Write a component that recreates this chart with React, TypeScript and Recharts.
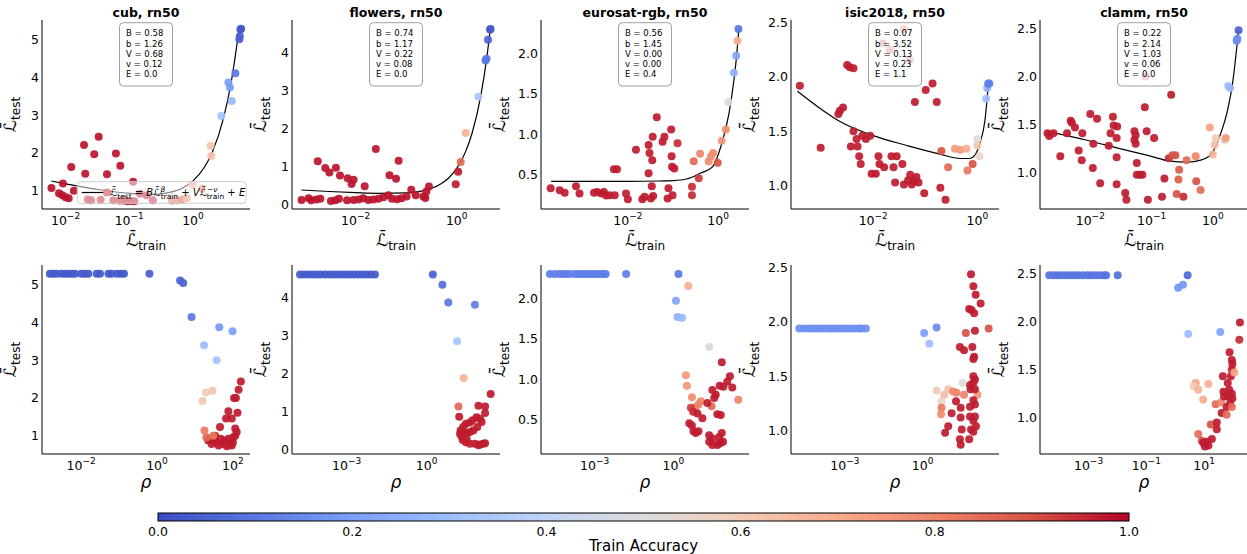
import React from 'react';
import { ComposedChart, Scatter, Line, XAxis, YAxis } from 'recharts';

type P = [number, number, number];
type C = [number, number];

const FONT = '"DejaVu Sans", sans-serif';
const LBAR = '\u2112\u0304';

// ---------- categories / titles / params ----------
const titles = ['cub, rn50', 'flowers, rn50', 'eurosat-rgb, rn50', 'isic2018, rn50', 'clamm, rn50'];
const cubParams = ['B = 0.58', 'b = 1.26', 'V = 0.68', 'v = 0.12', 'E = 0.0'];
const flowersParams = ['B = 0.74', 'b = 1.17', 'V = 0.22', 'v = 0.08', 'E = 0.0'];
const eurosatParams = ['B = 0.56', 'b = 1.45', 'V = 0.00', 'v = 0.00', 'E = 0.4'];
const isicParams = ['B = 0.07', 'b = 3.52', 'V = 0.13', 'v = 0.23', 'E = 1.1'];
const clammParams = ['B = 0.22', 'b = 2.14', 'V = 1.03', 'v = 0.06', 'E = 0.0'];
const colorbarTicks = [0, 0.2, 0.4, 0.6, 0.8, 1.0];

// ---------- top row: [L_train, L_test, train accuracy] ----------
const cubTrain: P[] = [
  [0.006, 1.07, 0.98], [0.0079, 0.93, 0.98], [0.0089, 0.88, 0.98], [0.0091, 1.19, 0.98], [0.01, 0.83, 0.98],
  [0.0112, 0.8, 0.98], [0.0123, 1.63, 0.98], [0.0135, 1.0, 0.98], [0.0195, 2.21, 0.98], [0.0204, 1.45, 0.98],
  [0.0282, 1.97, 0.98], [0.0331, 2.43, 0.98], [0.0447, 1.44, 0.98], [0.0617, 1.99, 0.98], [0.0724, 1.66, 0.98],
  [0.115, 1.24, 0.98], [0.0224, 0.77, 0.97], [0.0251, 0.75, 0.97], [0.0355, 0.76, 0.97], [0.0447, 0.95, 0.97],
  [0.0562, 0.75, 0.97], [0.0708, 0.74, 0.97], [0.0832, 0.74, 0.97], [0.0933, 0.72, 0.97], [0.107, 0.73, 0.97],
  [0.12, 0.72, 0.97], [0.148, 0.92, 0.97], [0.186, 0.88, 0.97], [0.234, 0.75, 0.97], [0.468, 0.74, 0.85],
  [0.562, 0.75, 0.85], [0.676, 0.77, 0.9], [0.794, 0.8, 0.8], [0.99, 1.16, 0.72], [1.38, 1.05, 0.8],
  [1.89, 2.19, 0.62], [1.94, 1.92, 0.63], [2.79, 2.98, 0.32], [3.59, 3.87, 0.2], [3.8, 3.74, 0.2],
  [4.05, 3.38, 0.28], [4.62, 4.12, 0.1], [5.35, 5.02, 0.05], [5.43, 5.1, 0.05], [5.56, 5.28, 0.03], [5.69, 5.3, 0.03],
];
const flowersTrain: P[] = [
  [0.00085, 0.13, 0.98], [0.00117, 0.17, 0.98], [0.00132, 0.12, 0.98], [0.00166, 0.14, 0.98], [0.002, 0.16, 0.98],
  [0.00324, 0.1, 0.98], [0.00398, 0.12, 0.98], [0.00468, 0.16, 0.98], [0.00676, 0.12, 0.98], [0.0091, 0.13, 0.98],
  [0.0115, 0.14, 0.98], [0.0141, 0.17, 0.98], [0.0178, 0.13, 0.98], [0.0224, 0.14, 0.98], [0.0282, 0.16, 0.98],
  [0.0355, 0.2, 0.98], [0.0447, 0.25, 0.98], [0.0525, 0.16, 0.98], [0.0661, 0.15, 0.98], [0.0813, 0.17, 0.98],
  [0.102, 0.22, 0.98], [0.126, 0.4, 0.98], [0.155, 0.25, 0.98], [0.219, 0.22, 0.98], [0.24, 0.18, 0.98],
  [0.251, 0.35, 0.98], [0.282, 0.48, 0.98], [0.00178, 1.15, 0.98], [0.00251, 0.97, 0.98], [0.00302, 0.85, 0.98],
  [0.00407, 0.98, 0.98], [0.0049, 0.77, 0.98], [0.00692, 0.7, 0.98], [0.0083, 0.55, 0.98], [0.0091, 0.66, 0.98],
  [0.0151, 0.49, 0.98], [0.0251, 1.47, 0.98], [0.0468, 0.78, 0.98], [0.0631, 0.69, 0.98], [0.0708, 1.16, 0.98],
  [0.955, 0.54, 0.97], [1.07, 0.87, 0.97], [1.2, 1.13, 0.85], [1.51, 1.89, 0.68], [2.69, 2.85, 0.33],
  [3.72, 3.8, 0.1], [3.89, 3.85, 0.1], [4.17, 4.35, 0.06], [4.57, 4.62, 0.03], [4.68, 4.63, 0.03],
];
const eurosatTrain: P[] = [
  [0.000195, 0.335, 0.97], [0.000309, 0.31, 0.97], [0.000398, 0.28, 0.97], [0.000708, 0.36, 0.97], [0.00085, 0.27, 0.97],
  [0.00178, 0.28, 0.97], [0.00209, 0.29, 0.97], [0.00257, 0.27, 0.97], [0.00295, 0.29, 0.97], [0.00331, 0.245, 0.97],
  [0.00398, 0.25, 0.97], [0.00513, 0.25, 0.97], [0.0049, 0.57, 0.97], [0.00575, 0.57, 0.97], [0.0091, 0.27, 0.97],
  [0.01, 0.2, 0.97], [0.0151, 0.81, 0.97], [0.0209, 0.2, 0.97], [0.0234, 0.23, 0.97], [0.0288, 0.87, 0.97],
  [0.0288, 0.52, 0.97], [0.0302, 0.77, 0.97], [0.0324, 0.21, 0.97], [0.0339, 0.36, 0.97], [0.0347, 0.68, 0.97],
  [0.0355, 0.97, 0.97], [0.0363, 0.24, 0.97], [0.0437, 1.21, 0.97], [0.0589, 0.91, 0.97], [0.0646, 0.97, 0.97],
  [0.0759, 0.21, 0.97], [0.0794, 0.335, 0.97], [0.0912, 1.06, 0.97], [0.0933, 0.73, 0.97], [0.0955, 0.6, 0.97],
  [0.0977, 0.25, 0.97], [0.107, 0.58, 0.97], [0.126, 0.89, 0.95], [0.263, 0.355, 0.95], [0.263, 0.25, 0.95],
  [0.288, 0.67, 0.85], [0.372, 0.46, 0.93], [0.398, 0.76, 0.8], [0.617, 0.665, 0.78], [0.692, 0.73, 0.78],
  [0.776, 0.77, 0.78], [0.977, 0.65, 0.9], [1.2, 0.92, 0.75], [1.48, 1.06, 0.77], [1.7, 1.4, 0.48],
  [2.24, 1.76, 0.26], [2.51, 1.97, 0.22], [2.69, 2.15, 0.7], [2.82, 2.3, 0.1],
];
const isicTrain: P[] = [
  [0.000389, 1.92, 0.97], [0.000977, 1.35, 0.97], [0.00214, 1.66, 0.97], [0.00229, 1.69, 0.97], [0.00263, 1.72, 0.97],
  [0.00316, 2.11, 0.97], [0.00355, 2.09, 0.97], [0.00417, 2.08, 0.97], [0.00417, 1.5, 0.97], [0.00372, 1.36, 0.97],
  [0.00479, 1.43, 0.97], [0.005, 1.36, 0.97], [0.00537, 1.27, 0.97], [0.00575, 1.2, 0.97], [0.00617, 1.46, 0.97],
  [0.00724, 1.43, 0.97], [0.00871, 1.46, 0.97], [0.00933, 1.11, 0.97], [0.0112, 1.11, 0.97], [0.0126, 1.27, 0.97],
  [0.0132, 1.2, 0.97], [0.0162, 1.17, 0.97], [0.0224, 1.27, 0.97], [0.0245, 1.17, 0.97], [0.0263, 1.03, 0.97],
  [0.0282, 1.27, 0.97], [0.0363, 1.2, 0.97], [0.0389, 1.01, 0.97], [0.0468, 1.05, 0.97], [0.0513, 1.1, 0.97],
  [0.055, 1.01, 0.97], [0.0603, 1.04, 0.97], [0.0676, 1.08, 0.97], [0.0741, 1.03, 0.97], [0.0631, 1.77, 0.97],
  [0.0955, 0.93, 0.97], [0.102, 1.88, 0.97], [0.138, 1.94, 0.97], [0.166, 1.77, 0.97], [0.195, 0.98, 0.97],
  [0.204, 1.32, 0.9], [0.245, 0.87, 0.97], [0.275, 1.17, 0.85], [0.372, 1.34, 0.75], [0.468, 1.33, 0.75],
  [0.617, 1.34, 0.7], [0.646, 1.14, 0.82], [0.813, 1.2, 0.9], [1.0, 1.43, 0.5], [1.0, 1.37, 0.62],
  [1.1, 1.27, 0.55], [1.48, 1.8, 0.3], [1.55, 1.9, 0.25], [1.62, 1.94, 0.1], [1.7, 1.94, 0.12],
  [0.0151, 2.31, 0.97], [0.0209, 2.25, 0.97], [0.0389, 2.44, 0.97], [0.0501, 2.16, 0.97],
];
const clammTrain: P[] = [
  [0.002, 1.41, 0.97], [0.00214, 1.38, 0.97], [0.00251, 1.41, 0.97], [0.00324, 1.17, 0.97], [0.00417, 1.41, 0.97],
  [0.00479, 1.54, 0.97], [0.005, 1.52, 0.97], [0.00562, 1.47, 0.97], [0.00646, 1.23, 0.97], [0.00724, 1.13, 0.97],
  [0.00741, 1.41, 0.97], [0.01, 1.61, 0.97], [0.011, 1.05, 0.97], [0.0112, 1.3, 0.97], [0.0129, 1.56, 0.97],
  [0.0145, 0.89, 0.97], [0.02, 1.28, 0.97], [0.0214, 1.41, 0.97], [0.0234, 1.58, 0.97], [0.024, 1.49, 0.97],
  [0.0269, 1.36, 0.97], [0.0275, 1.48, 0.97], [0.0269, 1.16, 0.97], [0.0269, 0.88, 0.97], [0.0372, 0.79, 0.97],
  [0.0389, 0.72, 0.97], [0.0525, 1.43, 0.97], [0.055, 1.39, 0.97], [0.0525, 1.34, 0.97], [0.055, 1.3, 0.97],
  [0.0575, 1.1, 0.97], [0.0575, 0.98, 0.97], [0.0646, 0.98, 0.97], [0.0708, 0.98, 0.97], [0.0776, 1.68, 0.97],
  [0.0832, 1.43, 0.97], [0.0871, 0.72, 0.97], [0.11, 1.36, 0.97], [0.148, 0.75, 0.97], [0.162, 0.94, 0.97],
  [0.209, 1.81, 0.97], [0.191, 1.15, 0.95], [0.219, 1.18, 0.9], [0.245, 1.18, 0.9], [0.257, 0.78, 0.9],
  [0.275, 0.93, 0.88], [0.282, 1.03, 0.88], [0.331, 0.75, 0.95], [0.372, 1.13, 0.85], [0.525, 1.17, 0.8],
  [0.537, 0.91, 0.9], [0.631, 0.82, 0.85], [0.891, 1.47, 0.72], [1.0, 1.19, 0.68], [1.07, 1.29, 0.65],
  [1.12, 1.36, 0.6], [1.55, 1.34, 0.55], [1.62, 1.36, 0.75], [1.78, 1.9, 0.3], [1.91, 1.88, 0.28],
  [2.45, 2.37, 0.15], [2.51, 2.39, 0.15], [2.63, 2.48, 0.05], [0.0794, 2.0, 0.97],
];

// ---------- fitted curves: [L_train, L_test] ----------
const cubCurve: C[] = [[0.006, 1.258], [0.01, 1.184], [0.03, 1.043], [0.1, 0.928], [0.2, 0.901], [0.3, 0.913], [0.5, 0.981], [0.7, 1.08], [1, 1.26], [1.5, 1.615], [2, 2.015], [3, 2.911], [4, 3.902], [5.3, 5.3]];
const flowersCurve: C[] = [[0.00085, 0.39], [0.003, 0.351], [0.01, 0.321], [0.03, 0.303], [0.1, 0.314], [0.2, 0.363], [0.3, 0.423], [0.5, 0.561], [0.7, 0.714], [1, 0.96], [1.5, 1.402], [2, 1.873], [3, 2.877], [4, 3.944], [4.6, 4.6]];
const eurosatCurve: C[] = [[0.0002, 0.42], [0.001, 0.42], [0.01, 0.42], [0.05, 0.425], [0.1, 0.43], [0.2, 0.45], [0.4, 0.52], [0.75, 0.6], [1.15, 0.85], [1.74, 1.26], [2.24, 1.67], [2.6, 2.0], [2.88, 2.31]];
const isicCurve: C[] = [[0.00035, 1.87], [0.0011, 1.69], [0.0023, 1.59], [0.01, 1.46], [0.044, 1.37], [0.19, 1.29], [0.47, 1.25], [0.72, 1.25], [0.9, 1.28], [1.12, 1.39], [1.4, 1.6], [1.62, 1.92]];
const clammCurve: C[] = [[0.002, 1.43], [0.0085, 1.34], [0.0355, 1.24], [0.087, 1.18], [0.204, 1.12], [0.38, 1.11], [0.63, 1.13], [0.933, 1.19], [1.35, 1.41], [1.74, 1.65], [2.09, 1.92], [2.63, 2.48]];

// ---------- bottom row: [rho, L_test, train accuracy] ----------
const cubRho: P[] = [
  [0.0015, 5.3, 0.03], [0.00182, 5.3, 0.03], [0.00224, 5.3, 0.03], [0.00302, 5.3, 0.03], [0.00372, 5.3, 0.03],
  [0.00457, 5.3, 0.03], [0.00562, 5.3, 0.03], [0.0069, 5.3, 0.03], [0.0102, 5.3, 0.03], [0.0126, 5.3, 0.03],
  [0.0155, 5.3, 0.03], [0.0257, 5.3, 0.03], [0.0316, 5.3, 0.03], [0.0525, 5.3, 0.03], [0.0631, 5.3, 0.03],
  [0.0871, 5.3, 0.03], [0.11, 5.3, 0.03], [0.135, 5.3, 0.03], [0.631, 5.3, 0.04],
  [4.07, 5.12, 0.05], [4.9, 5.05, 0.05], [8.13, 4.15, 0.1], [17.4, 3.4, 0.3], [43.7, 3.88, 0.18],
  [37.2, 3.0, 0.32], [97.7, 3.77, 0.2], [15.8, 1.92, 0.62], [19.5, 2.15, 0.6], [28.8, 2.19, 0.62], [17.8, 1.14, 0.82],
  [162, 2.44, 0.97], [141, 2.22, 0.97], [107, 2.0, 0.97], [120, 2.0, 0.97], [75.9, 1.65, 0.97], [66.1, 1.46, 0.97],
  [93.3, 1.46, 0.97], [132, 1.61, 0.97], [45.7, 1.23, 0.97], [115, 1.19, 0.97], [25.1, 0.92, 0.97], [30.9, 0.87, 0.97],
  [37.2, 0.83, 0.97], [47.9, 0.92, 0.97], [53.7, 0.78, 0.97], [61.7, 0.87, 0.97], [75.9, 0.92, 0.97], [85.1, 0.78, 0.97],
  [100, 0.83, 0.97], [102, 0.96, 0.97], [115, 1.0, 0.97], [126, 1.1, 0.97], [93.3, 0.74, 0.97], [69.2, 0.72, 0.97],
  [41.7, 0.74, 0.97], [33.9, 1.0, 0.97], [22.4, 0.87, 0.97], [27.5, 0.78, 0.97], [20, 0.95, 0.85], [30, 1.0, 0.82],
];
const flowersRho: P[] = [
  [1.78e-5, 4.62, 0.03], [2.51e-5, 4.62, 0.03], [3.63e-5, 4.62, 0.03], [5.25e-5, 4.62, 0.03], [7.41e-5, 4.62, 0.03],
  [1.05e-4, 4.62, 0.03], [1.55e-4, 4.62, 0.03], [2.24e-4, 4.62, 0.03], [3.16e-4, 4.62, 0.03], [4.47e-4, 4.62, 0.03],
  [6.46e-4, 4.62, 0.03], [9.33e-4, 4.62, 0.03], [1.32e-3, 4.62, 0.03], [1.86e-3, 4.62, 0.03], [2.75e-3, 4.62, 0.03],
  [3.98e-3, 4.62, 0.03], [5.62e-3, 4.62, 0.03], [7.94e-3, 4.62, 0.03], [0.0115, 4.62, 0.03],
  [1.7, 4.62, 0.05], [3.89, 4.35, 0.08], [6.46, 3.88, 0.1], [64.6, 3.82, 0.12], [13.8, 2.86, 0.33],
  [24.5, 1.89, 0.68], [15.5, 1.14, 0.85], [16.6, 0.87, 0.97], [251, 1.47, 0.97], [87.1, 1.16, 0.97],
  [155, 1.14, 0.97], [155, 0.97, 0.97], [18.6, 0.51, 0.97], [23.4, 0.6, 0.97], [29.5, 0.69, 0.97],
  [41.7, 0.72, 0.97], [52.5, 0.78, 0.97], [74.1, 0.86, 0.97], [100, 0.82, 0.97], [115, 0.73, 0.97],
  [79.4, 0.6, 0.97], [56.2, 0.51, 0.97], [41.7, 0.47, 0.97], [31.6, 0.44, 0.97], [23.4, 0.44, 0.97],
  [20.4, 0.35, 0.97], [22.4, 0.26, 0.97], [29.5, 0.2, 0.97], [41.7, 0.16, 0.97], [64.6, 0.16, 0.97],
  [100, 0.14, 0.97], [132, 0.16, 0.97], [155, 0.17, 0.97], [87.1, 0.12, 0.97], [31.6, 0.29, 0.97], [17.8, 0.42, 0.97],
];
const eurosatRho: P[] = [
  [1.95e-5, 2.3, 0.12], [3.02e-5, 2.3, 0.12], [4.47e-5, 2.3, 0.12], [6.31e-5, 2.3, 0.12], [8.32e-5, 2.3, 0.12],
  [1.12e-4, 2.3, 0.12], [1.74e-4, 2.3, 0.12], [2.34e-4, 2.3, 0.12], [3.09e-4, 2.3, 0.12], [4.17e-4, 2.3, 0.12],
  [5.62e-4, 2.3, 0.12], [7.41e-4, 2.3, 0.12], [1.0e-3, 2.3, 0.12], [1.35e-3, 2.3, 0.12], [1.78e-3, 2.3, 0.12],
  [2.19e-3, 2.3, 0.12], [2.63e-3, 2.3, 0.12], [0.0158, 2.3, 0.12], [1.58, 2.3, 0.1],
  [3.72, 2.15, 0.7], [1.26, 1.97, 0.22], [1.45, 1.77, 0.26], [2.14, 1.76, 0.28], [23.4, 1.4, 0.48],
  [3.02, 1.05, 0.75], [3.31, 0.92, 0.75], [5.13, 0.78, 0.78], [70.8, 1.21, 0.97], [302, 0.75, 0.8],
  [145, 1.04, 0.97], [115, 0.97, 0.97], [178, 0.9, 0.97], [58.9, 0.92, 0.97], [81.3, 0.91, 0.97],
  [30.9, 0.87, 0.97], [41.7, 0.81, 0.97], [36.3, 0.77, 0.97], [11.2, 0.73, 0.8], [9.12, 0.69, 0.8],
  [7.24, 0.66, 0.8], [28.8, 0.67, 0.85], [20, 0.71, 0.97], [4.68, 0.65, 0.93], [5.75, 0.6, 0.95],
  [8.32, 0.58, 0.97], [12.9, 0.52, 0.97], [47.9, 0.57, 0.97], [64.6, 0.56, 0.97], [4.07, 0.46, 0.97],
  [5.13, 0.43, 0.97], [5.89, 0.36, 0.97], [7.24, 0.34, 0.97], [9.12, 0.36, 0.97], [23.4, 0.31, 0.97],
  [30.9, 0.27, 0.97], [56.2, 0.29, 0.97], [70.8, 0.34, 0.97], [23.4, 0.23, 0.97], [30.9, 0.19, 0.97],
  [47.9, 0.19, 0.97], [64.6, 0.22, 0.97], [79.4, 0.23, 0.97], [56.2, 0.21, 0.97],
];
const isicRho: P[] = [
  [1.74e-5, 1.94, 0.16], [2.63e-5, 1.94, 0.16], [3.89e-5, 1.94, 0.16], [5.62e-5, 1.94, 0.16], [8.13e-5, 1.94, 0.16],
  [1.15e-4, 1.94, 0.16], [1.7e-4, 1.94, 0.16], [2.51e-4, 1.94, 0.16], [3.55e-4, 1.94, 0.16], [5.13e-4, 1.94, 0.16],
  [7.41e-4, 1.94, 0.16], [1.1e-3, 1.94, 0.16], [1.55e-3, 1.94, 0.16], [2.24e-3, 1.94, 0.16], [3.31e-3, 1.94, 0.16],
  [4.37e-3, 1.94, 0.16], [6.46e-3, 1.94, 0.16],
  [1.15, 1.9, 0.2], [1.82, 1.8, 0.3], [3.47, 1.95, 0.15], [355, 1.94, 0.9],
  [74.1, 2.44, 0.97], [91.2, 2.33, 0.97], [112, 2.25, 0.97], [174, 2.17, 0.97], [63.1, 2.12, 0.97],
  [77.6, 2.11, 0.97], [97.7, 2.08, 0.97], [105, 1.92, 0.97], [46.8, 1.9, 0.9], [27.5, 1.77, 0.97],
  [39.8, 1.74, 0.97], [83.2, 1.77, 0.97], [97.7, 1.68, 0.97], [91.2, 1.66, 0.97], [91.2, 1.5, 0.97],
  [105, 1.47, 0.97], [91.2, 1.44, 0.97], [67.6, 1.42, 0.97], [34.7, 1.44, 0.5], [3.47, 1.37, 0.6],
  [9.77, 1.38, 0.62], [6.92, 1.33, 0.65], [5.37, 1.27, 0.55], [15.1, 1.36, 0.8], [20.4, 1.35, 0.8],
  [39.8, 1.33, 0.8], [132, 1.33, 0.75], [5.37, 1.21, 0.82], [5.13, 1.15, 0.78], [13.2, 1.16, 0.97],
  [19.5, 1.27, 0.97], [29.5, 1.21, 0.97], [9.77, 1.04, 0.97], [7.41, 0.98, 0.97], [29.5, 1.12, 0.97],
  [32.4, 1.01, 0.97], [67.6, 1.22, 0.97], [91.2, 1.28, 0.97], [105, 1.24, 0.97], [67.6, 1.13, 0.97],
  [91.2, 1.09, 0.97], [115, 1.04, 0.97], [74.1, 1.01, 0.97], [91.2, 0.99, 0.97], [63.1, 0.92, 0.97],
  [27.5, 0.92, 0.97], [29.5, 0.87, 0.97], [105, 1.13, 0.97], [70.8, 1.38, 0.97], [105, 1.38, 0.97],
];
const clammRho: P[] = [
  [4.37e-5, 2.48, 0.09], [6.17e-5, 2.48, 0.09], [8.51e-5, 2.48, 0.09], [1.17e-4, 2.48, 0.09], [1.66e-4, 2.48, 0.09],
  [2.34e-4, 2.48, 0.09], [3.24e-4, 2.48, 0.09], [4.37e-4, 2.48, 0.09], [6.31e-4, 2.48, 0.09], [8.91e-4, 2.48, 0.09],
  [1.23e-3, 2.48, 0.09], [1.7e-3, 2.48, 0.09], [2.4e-3, 2.48, 0.09], [3.39e-3, 2.48, 0.09], [4.07e-3, 2.48, 0.09],
  [0.0102, 2.48, 0.08], [2.69, 2.48, 0.06], [1.26, 2.35, 0.18], [1.86, 2.38, 0.18], [2.82, 1.87, 0.3],
  [36.3, 1.89, 0.22], [174, 1.99, 0.97], [166, 1.81, 0.95], [75.9, 1.68, 0.97], [91.2, 1.6, 0.97],
  [95.5, 1.56, 0.97], [91.2, 1.5, 0.97], [85.1, 1.43, 0.97], [44.7, 1.43, 0.97], [112, 1.47, 0.72],
  [5.13, 1.36, 0.72], [4.27, 1.33, 0.6], [6.31, 1.29, 0.68], [14.1, 1.35, 0.68], [9.33, 1.19, 0.7],
  [25.1, 1.14, 0.85], [38.9, 1.16, 0.8], [46.8, 1.27, 0.97], [66.1, 1.36, 0.97], [74.1, 1.29, 0.97],
  [91.2, 1.25, 0.97], [95.5, 1.2, 0.97], [79.4, 1.15, 0.97], [60.3, 1.11, 0.97], [40.7, 1.05, 0.97],
  [60.3, 1.03, 0.85], [91.2, 1.11, 0.85], [17.0, 0.93, 0.9], [27.5, 0.95, 0.97], [27.5, 0.88, 0.97],
  [6.31, 0.83, 0.85], [8.32, 0.76, 0.9], [9.33, 0.74, 0.97], [12.3, 0.75, 0.97], [10.7, 0.7, 0.97],
  [18.6, 0.78, 0.97], [14.1, 0.71, 0.97], [49, 1.22, 0.97], [69.2, 1.22, 0.97],
];

// ---------- colormap (coolwarm) ----------
const CW = ['#3b4cc0', '#5977e3', '#7b9ff9', '#9ebeff', '#c0d4f5', '#dddcdc', '#f2cbb7', '#f7ac8e', '#ee8468', '#d65244', '#b40426'];
const hex = (h: string) => [1, 3, 5].map((i) => parseInt(h.slice(i, i + 2), 16));
function coolwarm(t: number): string {
  const s = Math.max(0, Math.min(1, t)) * 10;
  const i = Math.min(9, Math.floor(s));
  const f = s - i;
  const a = hex(CW[i]);
  const b = hex(CW[i + 1]);
  const c = a.map((v, k) => Math.round(v + (b[k] - v) * f));
  return `rgb(${c[0]},${c[1]},${c[2]})`;
}

// ---------- layout ----------
const AX_W = 208;
const AX_H = 189;
const LEFTS = [42, 292, 541, 791, 1040];
const TOP1 = 20;
const TOP2 = 265;
const CB_L = 158;
const CB_R = 1129;
const CB_T = 513;
const CB_H = 8;

type Cfg = {
  data: P[]; curve?: C[]; xd: [number, number]; yd: [number, number];
  xt: number[]; yt: number[]; dec: number;
};

const topCfg: Cfg[] = [
  { data: cubTrain, curve: cubCurve, xd: [0.00427, 7.85], yd: [0.515, 5.53], xt: [0.01, 0.1, 1], yt: [1, 2, 3, 4, 5], dec: 0 },
  { data: flowersTrain, curve: flowersCurve, xd: [0.00055, 7.19], yd: [-0.11, 4.87], xt: [0.01, 1], yt: [0, 1, 2, 3, 4], dec: 0 },
  { data: eurosatTrain, curve: eurosatCurve, xd: [0.000119, 4.83], yd: [0.08, 2.41], xt: [0.01, 1], yt: [0.5, 1.0, 1.5, 2.0], dec: 1 },
  { data: isicTrain, curve: isicCurve, xd: [0.000263, 2.61], yd: [0.785, 2.525], xt: [0.01, 1], yt: [1.0, 1.5, 2.0, 2.5], dec: 1 },
  { data: clammTrain, curve: clammCurve, xd: [0.00151, 3.75], yd: [0.623, 2.586], xt: [0.01, 0.1, 1], yt: [1.0, 1.5, 2.0, 2.5], dec: 1 },
];
const botCfg: Cfg[] = [
  { data: cubRho, xd: [0.000933, 282], yd: [0.515, 5.53], xt: [0.01, 1, 100], yt: [1, 2, 3, 4, 5], dec: 0 },
  { data: flowersRho, xd: [8.9e-6, 562], yd: [-0.11, 4.87], xt: [0.001, 1], yt: [0, 1, 2, 3, 4], dec: 0 },
  { data: eurosatRho, xd: [8.9e-6, 776], yd: [0.08, 2.41], xt: [0.001, 1], yt: [0.5, 1.0, 1.5, 2.0], dec: 1 },
  { data: isicRho, xd: [8.3e-6, 891], yd: [0.785, 2.525], xt: [0.001, 1], yt: [1.0, 1.5, 2.0, 2.5], dec: 1 },
  { data: clammRho, xd: [2.09e-5, 331], yd: [0.623, 2.586], xt: [0.001, 0.1, 10], yt: [1.0, 1.5, 2.0, 2.5], dec: 1 },
];
const paramSets = [cubParams, flowersParams, eurosatParams, isicParams, clammParams];

const LogTick = (props: any) => {
  const { x, y, payload } = props;
  const e = Math.round(Math.log10(payload.value));
  const s = e < 0 ? '\u2212' + Math.abs(e) : String(e);
  return (
    <text x={x} y={y} textAnchor="middle" fontFamily={FONT} fill="#000">
      <tspan fontSize={12.5} dy={12}>10</tspan>
      <tspan fontSize={9} dy={-6.5}>{s}</tspan>
    </text>
  );
};

const Dot = (p: any) => <circle cx={p.cx} cy={p.cy} r={4} fill={p.payload.c} fillOpacity={0.92} />;

function Panel({ cfg, L, T }: { cfg: Cfg; L: number; T: number }) {
  const pts = cfg.data.map(([x, y, a]) => ({ x, y, c: coolwarm(a) }));
  const line = cfg.curve ? cfg.curve.map(([x, y]) => ({ x, y })) : null;
  return (
    <div style={{ position: 'absolute', left: L - 40, top: T - 20 }}>
      <ComposedChart width={40 + AX_W + 2} height={20 + AX_H + 41} margin={{ top: 20, right: 2, left: 0, bottom: 0 }}>
        <XAxis dataKey="x" type="number" scale="log" domain={cfg.xd} ticks={cfg.xt} allowDataOverflow interval={0}
          tick={<LogTick />} tickLine={false} tickSize={0} tickMargin={4} height={41}
          axisLine={{ stroke: '#000', strokeWidth: 1 }} />
        <YAxis dataKey="y" type="number" domain={cfg.yd} ticks={cfg.yt} allowDataOverflow interval={0} width={40}
          tickLine={false} tickSize={0} tickMargin={3}
          tick={{ fontSize: 12.5, fill: '#000', fontFamily: FONT }}
          tickFormatter={(v: number) => v.toFixed(cfg.dec)}
          axisLine={{ stroke: '#000', strokeWidth: 1 }} />
        <Scatter data={pts} dataKey="y" shape={Dot} isAnimationActive={false} />
        {line && (
          <Line data={line} dataKey="y" type="monotone" stroke="#000" strokeWidth={1.2} dot={false}
            activeDot={false} isAnimationActive={false} />
        )}
      </ComposedChart>
    </div>
  );
}

function Overlay() {
  const items: React.ReactNode[] = [];
  LEFTS.forEach((L, i) => {
    const cx = L + AX_W / 2;
    const off = topCfg[i].dec ? 36 : 26;
    items.push(
      <text key={'t' + i} x={cx} y={16.5} textAnchor="middle" fontSize={12.5} fontWeight="bold">{titles[i]}</text>,
    );
    items.push(
      <g key={'b' + i}>
        <rect x={cx - 26.5} y={TOP1 + 2.7} width={53} height={63.3} rx={4} fill="#fff" fillOpacity={0.8} stroke="#a0a0a0" strokeWidth={1} />
        {paramSets[i].map((s, k) => (
          <text key={k} x={cx - 20} y={TOP1 + 2.7 + 13.7 + k * 10.2} fontSize={8.5}>{s}</text>
        ))}
      </g>,
    );
    items.push(
      <text key={'xl' + i} x={cx} y={TOP1 + AX_H + 37} textAnchor="middle">
        <tspan fontSize={17}>{LBAR}</tspan>
        <tspan fontSize={12} dy={3.5}>train</tspan>
      </text>,
      <text key={'xr' + i} x={cx} y={TOP2 + AX_H + 34} textAnchor="middle" fontSize={17} fontStyle="italic">ρ</text>,
    );
    [TOP1, TOP2].forEach((T, r) => {
      items.push(
        <text key={'yl' + i + '_' + r} transform={`translate(${L - off},${T + AX_H / 2}) rotate(-90)`} textAnchor="middle">
          <tspan fontSize={17}>{LBAR}</tspan>
          <tspan fontSize={12} dy={3.5}>test</tspan>
        </text>,
      );
    });
  });
  return (
    <svg width={1247} height={554} style={{ position: 'absolute', left: 0, top: 0, pointerEvents: 'none' }}
      fontFamily={FONT} fill="#000">
      <defs>
        <linearGradient id="cwgrad" x1="0" x2="1" y1="0" y2="0">
          {CW.map((c, i) => <stop key={i} offset={i / 10} stopColor={c} />)}
        </linearGradient>
      </defs>
      {items}
      {/* legend in first panel */}
      <rect x={77.3} y={181.7} width={168.7} height={21.6} rx={3} fill="#fff" fillOpacity={0.5} stroke="#cccccc" strokeWidth={1} />
      <line x1={81.7} x2={103.3} y1={192.5} y2={192.5} stroke="#000" strokeWidth={1.2} />
      <text x={110} y={196} fontSize={10}>
        <tspan>{LBAR}</tspan>
        <tspan fontSize={7.5} dy={2.5}>test</tspan>
        <tspan dy={-2.5}>{' = '}</tspan>
        <tspan fontStyle="italic">B</tspan>
        <tspan>{LBAR}</tspan>
        <tspan fontSize={7.5} fontStyle="italic" dy={-4.5}>β</tspan>
        <tspan fontSize={7.5} dx={-4.6} dy={7}>train</tspan>
        <tspan dy={-2.5}>{' + '}</tspan>
        <tspan fontStyle="italic">V</tspan>
        <tspan>{LBAR}</tspan>
        <tspan fontSize={7.5} fontStyle="italic" dy={-4.5}>{'\u2212ν'}</tspan>
        <tspan fontSize={7.5} dx={-10.7} dy={7}>train</tspan>
        <tspan dy={-2.5}>{' + '}</tspan>
        <tspan fontStyle="italic">E</tspan>
      </text>
      {/* colorbar */}
      <rect x={CB_L} y={CB_T} width={CB_R - CB_L} height={CB_H} fill="url(#cwgrad)" stroke="#000" strokeWidth={1} />
      <text x={(CB_L + CB_R) / 2} y={551} textAnchor="middle" fontSize={15}>Train Accuracy</text>
    </svg>
  );
}

function ColorbarAxis() {
  return (
    <div style={{ position: 'absolute', left: 0, top: 500 }}>
      <ComposedChart width={1247} height={54} data={[{ x: 0 }, { x: 1 }]}
        margin={{ top: CB_T - 500, right: 1247 - CB_R, left: CB_L, bottom: 0 }}>
        <XAxis dataKey="x" type="number" domain={[0, 1]} ticks={colorbarTicks} interval={0} height={54 - (CB_T - 500) - CB_H}
          tickLine={false} tickSize={0} tickMargin={6} axisLine={false}
          tick={{ fontSize: 12.5, fill: '#000', fontFamily: FONT }} tickFormatter={(v: number) => v.toFixed(1)} />
        <YAxis type="number" domain={[0, 1]} hide width={0} />
      </ComposedChart>
    </div>
  );
}

export default function App() {
  return (
    <div style={{ position: 'absolute', left: 0, top: 0, width: 1247, height: 554, background: '#fff', fontFamily: FONT }}>
      {LEFTS.map((L, i) => <Panel key={'p' + i} cfg={topCfg[i]} L={L} T={TOP1} />)}
      {LEFTS.map((L, i) => <Panel key={'q' + i} cfg={botCfg[i]} L={L} T={TOP2} />)}
      <ColorbarAxis />
      <Overlay />
    </div>
  );
}
